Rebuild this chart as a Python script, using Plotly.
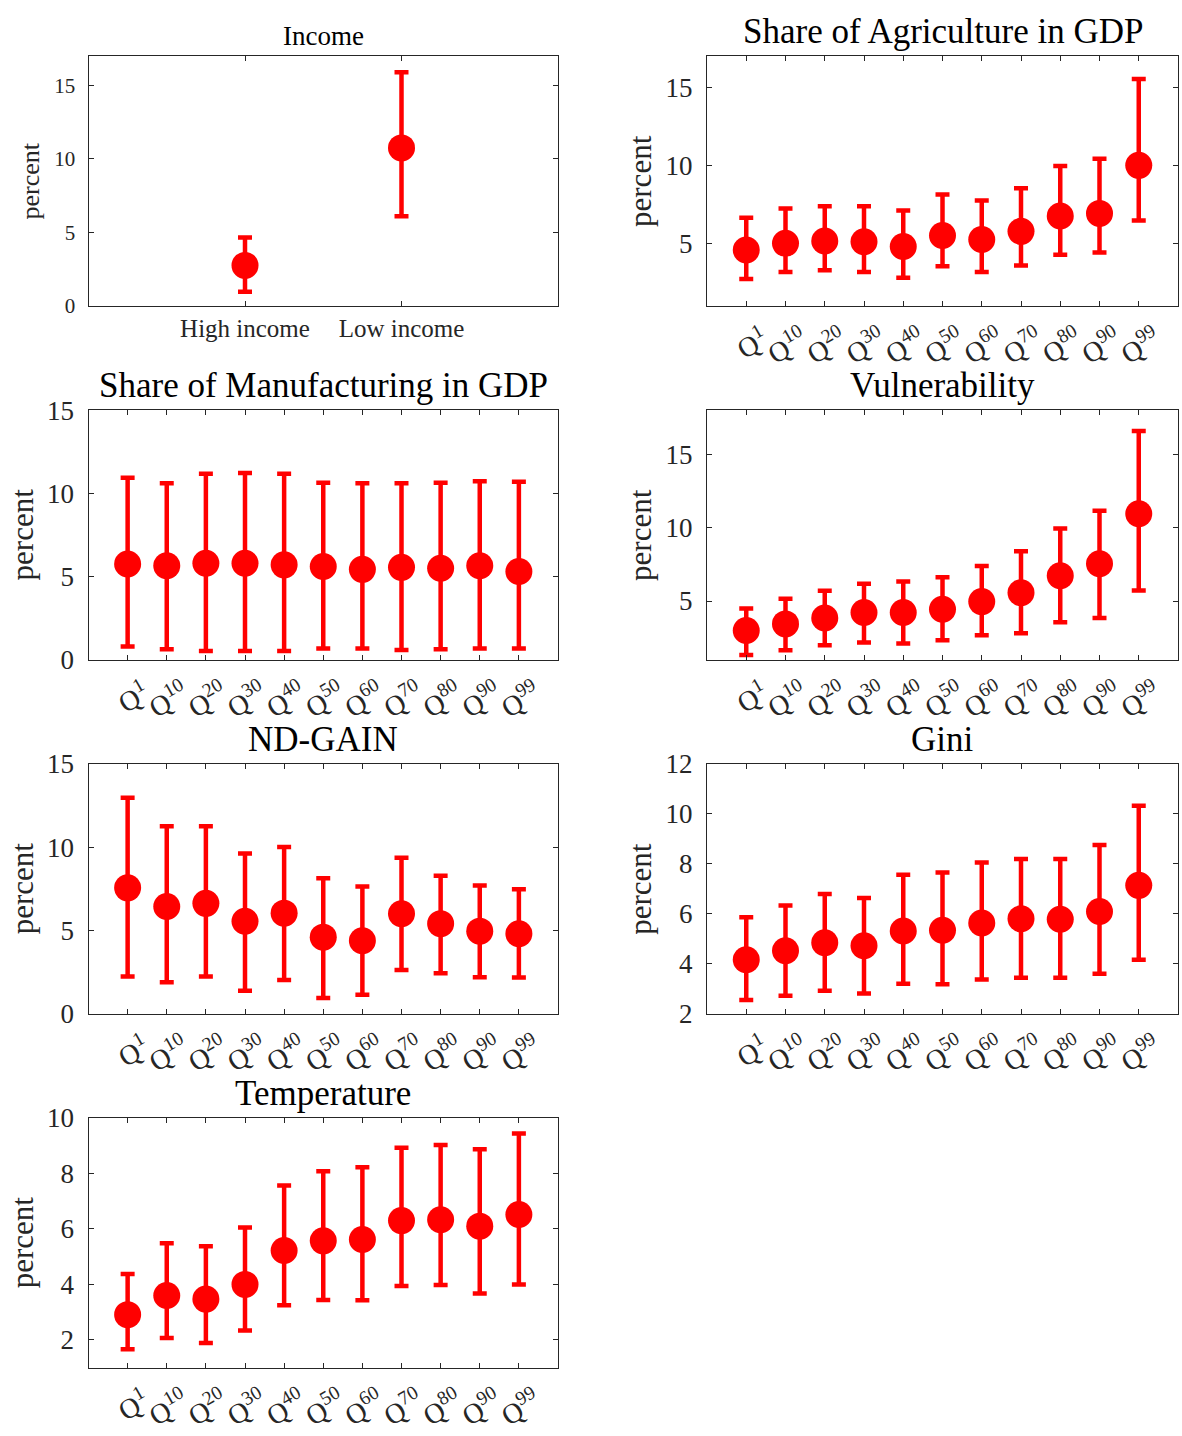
import plotly.graph_objects as go

FONT = "Liberation Serif"
AXCOL = "#262626"
RED = "rgb(255,0,0)"

# ---------------- data ----------------
income_cats = ["High income", "Low income"]
income_mid = [2.75, 10.75]
income_lo = [0.95, 6.10]
income_hi = [4.65, 15.90]

quant_labels = ["Q<sup>1</sup>", "Q<sup>10</sup>", "Q<sup>20</sup>", "Q<sup>30</sup>",
                "Q<sup>40</sup>", "Q<sup>50</sup>", "Q<sup>60</sup>", "Q<sup>70</sup>",
                "Q<sup>80</sup>", "Q<sup>90</sup>", "Q<sup>99</sup>"]

agri_mid = [4.58, 5.00, 5.15, 5.10, 4.80, 5.50, 5.25, 5.77, 6.75, 6.92, 10.00]
agri_hi = [6.65, 7.23, 7.38, 7.38, 7.10, 8.13, 7.75, 8.54, 9.96, 10.42, 15.54]
agri_lo = [2.71, 3.17, 3.27, 3.17, 2.79, 3.54, 3.17, 3.58, 4.27, 4.42, 6.46]

manu_mid = [5.75, 5.65, 5.80, 5.80, 5.70, 5.60, 5.43, 5.55, 5.50, 5.65, 5.30]
manu_hi = [10.93, 10.60, 11.18, 11.22, 11.18, 10.63, 10.60, 10.60, 10.63, 10.73, 10.70]
manu_lo = [0.79, 0.63, 0.53, 0.53, 0.53, 0.67, 0.67, 0.59, 0.63, 0.67, 0.67]

vuln_mid = [2.99, 3.44, 3.84, 4.22, 4.22, 4.44, 4.96, 5.56, 6.72, 7.54, 10.94]
vuln_hi = [4.49, 5.16, 5.69, 6.18, 6.32, 6.61, 7.39, 8.39, 9.93, 11.14, 16.58]
vuln_lo = [1.32, 1.65, 1.99, 2.17, 2.10, 2.32, 2.66, 2.81, 3.55, 3.84, 5.71]

nd_mid = [7.56, 6.44, 6.63, 5.55, 6.04, 4.60, 4.38, 6.00, 5.41, 4.96, 4.80]
nd_hi = [12.98, 11.26, 11.26, 9.63, 10.02, 8.13, 7.64, 9.37, 8.29, 7.70, 7.47]
nd_lo = [2.23, 1.89, 2.23, 1.38, 2.03, 0.95, 1.14, 2.62, 2.43, 2.19, 2.17]

gini_mid = [4.16, 4.52, 4.84, 4.72, 5.31, 5.34, 5.63, 5.80, 5.78, 6.09, 7.14]
gini_hi = [5.86, 6.33, 6.79, 6.63, 7.56, 7.66, 8.06, 8.20, 8.20, 8.76, 10.33]
gini_lo = [2.55, 2.72, 2.92, 2.81, 3.20, 3.18, 3.37, 3.44, 3.44, 3.60, 4.16]

temp_mid = [2.91, 3.60, 3.47, 4.00, 5.22, 5.57, 5.62, 6.30, 6.33, 6.10, 6.52]
temp_hi = [4.38, 5.48, 5.38, 6.05, 7.57, 8.08, 8.22, 8.93, 9.03, 8.87, 9.44]
temp_lo = [1.66, 2.07, 1.89, 2.34, 3.25, 3.44, 3.43, 3.94, 3.98, 3.67, 4.00]

panels = [
    dict(title="Income", cats=income_cats, mid=income_mid, lo=income_lo, hi=income_hi,
         yrange=[0, 17], yticks=[0, 5, 10, 15], row=0, col=0, small=True),
    dict(title="Share of Agriculture in GDP", cats=quant_labels, mid=agri_mid, lo=agri_lo, hi=agri_hi,
         yrange=[1, 17], yticks=[5, 10, 15], row=0, col=1, small=False),
    dict(title="Share of Manufacturing in GDP", cats=quant_labels, mid=manu_mid, lo=manu_lo, hi=manu_hi,
         yrange=[0, 15], yticks=[0, 5, 10, 15], row=1, col=0, small=False),
    dict(title="Vulnerability", cats=quant_labels, mid=vuln_mid, lo=vuln_lo, hi=vuln_hi,
         yrange=[1, 18], yticks=[5, 10, 15], row=1, col=1, small=False),
    dict(title="ND-GAIN", cats=quant_labels, mid=nd_mid, lo=nd_lo, hi=nd_hi,
         yrange=[0, 15], yticks=[0, 5, 10, 15], row=2, col=0, small=False),
    dict(title="Gini", cats=quant_labels, mid=gini_mid, lo=gini_lo, hi=gini_hi,
         yrange=[2, 12], yticks=[2, 4, 6, 8, 10, 12], row=2, col=1, small=False),
    dict(title="Temperature", cats=quant_labels, mid=temp_mid, lo=temp_lo, hi=temp_hi,
         yrange=[1, 10], yticks=[2, 4, 6, 8, 10], row=3, col=0, small=False),
]

# ---------------- layout geometry ----------------
W, H = 1182, 1436
col_x = [(88.5 / W, 558 / W), (707 / W, 1178 / W)]
row_tops = [42, 403.5, 765, 1126.5]
row_h = 255
row_y = [(1 - (t + row_h) / H, 1 - t / H) for t in row_tops]

fig = go.Figure()
annotations = []
layout = dict(
    width=W, height=H, margin=dict(l=0, r=0, t=0, b=0, pad=0),
    paper_bgcolor="white", plot_bgcolor="white", showlegend=False,
    font=dict(family=FONT, color=AXCOL),
)

for i, p in enumerate(panels):
    n = i + 1
    xa = "x" if n == 1 else f"x{n}"
    ya = "y" if n == 1 else f"y{n}"
    err_plus = [h - m for h, m in zip(p["hi"], p["mid"])]
    err_minus = [m - l for m, l in zip(p["mid"], p["lo"])]
    fig.add_trace(go.Scatter(
        x=p["cats"], y=p["mid"], mode="markers", xaxis=xa, yaxis=ya,
        marker=dict(color=RED, size=27, line=dict(width=0)),
        error_y=dict(type="data", symmetric=False, array=err_plus, arrayminus=err_minus,
                     color=RED, thickness=4.5, width=7),
        hoverinfo="skip",
    ))
    dx = col_x[p["col"]]
    dy = row_y[p["row"]]
    ncat = len(p["cats"])
    tick_font = 21 if p["small"] else 27
    xaxis = dict(
        domain=list(dx), anchor=ya, type="category",
        range=[-1, ncat], showline=True, linecolor=AXCOL, linewidth=1, mirror="ticks",
        ticks="inside", ticklen=5, tickwidth=1, tickcolor=AXCOL,
        showgrid=False, zeroline=False, fixedrange=True,
    )
    if p["small"]:
        xaxis.update(tickfont=dict(family=FONT, size=25, color=AXCOL), tickangle=0,
                     ticklabelstandoff=0)
    else:
        xaxis.update(tickfont=dict(family=FONT, size=28, color=AXCOL), tickangle=-30,
                     ticklabelshift=17, ticklabelstandoff=6)
    yaxis = dict(
        domain=list(dy), anchor=xa, range=p["yrange"], tickvals=p["yticks"],
        showline=True, linecolor=AXCOL, linewidth=1, mirror="ticks",
        ticks="inside", ticklen=5, tickwidth=1, tickcolor=AXCOL,
        tickfont=dict(family=FONT, size=tick_font, color=AXCOL),
        ticklabelstandoff=8,
        showgrid=False, zeroline=False, fixedrange=True,
    )
    layout["xaxis" if n == 1 else f"xaxis{n}"] = xaxis
    layout["yaxis" if n == 1 else f"yaxis{n}"] = yaxis

    # panel title
    annotations.append(dict(
        text=p["title"], xref="paper", yref="paper",
        x=(dx[0] + dx[1]) / 2, y=dy[1], xanchor="center", yanchor="bottom",
        yshift=3, showarrow=False,
        font=dict(family=FONT, size=27 if p["small"] else 35, color="black"),
    ))
    # y-axis label
    annotations.append(dict(
        text="percent", xref="paper", yref="paper",
        x=dx[0], y=(dy[0] + dy[1]) / 2, xanchor="center", yanchor="middle",
        xshift=-58 if p["small"] else -66, textangle=-90, showarrow=False,
        font=dict(family=FONT, size=26 if p["small"] else 31, color=AXCOL),
    ))

layout["annotations"] = annotations
fig.update_layout(**layout)
fig.write_html("out.html", config={"displayModeBar": False},
               post_script="document.body.style.margin='0px';document.body.style.padding='0px';")
